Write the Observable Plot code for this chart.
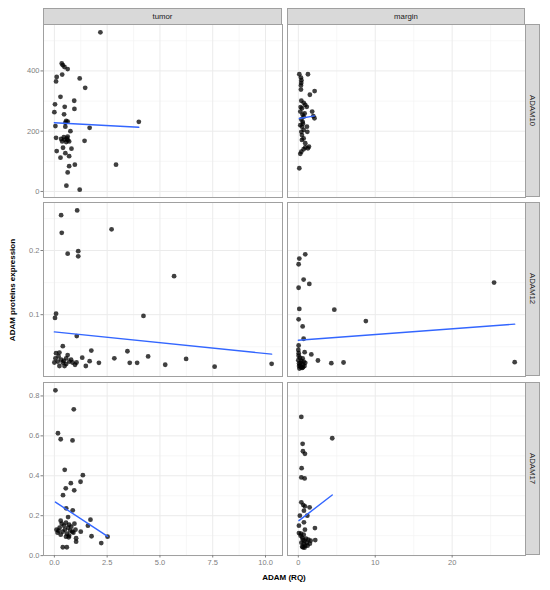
<!DOCTYPE html>
<html><head><meta charset="utf-8">
<script src="https://cdn.jsdelivr.net/npm/d3@7"></script>
<script src="https://cdn.jsdelivr.net/npm/@observablehq/plot@0.6"></script>
<style>
body{margin:0;background:#fff;font-family:"Liberation Sans",Arial,sans-serif;}
#chart{position:relative;width:550px;height:590px;overflow:hidden;}
.strip{position:absolute;background:#d9d9d9;border:1px solid #a0a0a0;box-sizing:border-box;display:flex;align-items:center;justify-content:center;font-size:7.8px;color:#1a1a1a;}
.vstrip{writing-mode:vertical-rl;}
.panel{position:absolute;}
.ytitle{position:absolute;left:12px;top:290px;transform:translate(-50%,-50%) rotate(-90deg);font-weight:bold;font-size:8px;white-space:nowrap;color:#000;}
.xtitle{position:absolute;left:284px;top:577px;transform:translate(-50%,-50%);font-weight:bold;font-size:8px;white-space:nowrap;color:#000;}
</style>
</head><body><div id="chart"></div>
<script>
const conditions = ["tumor", "margin"];
const proteins = ["ADAM10", "ADAM12", "ADAM17"];

const tumor_ADAM10 = [[2.18,528],[0.35,425],[0.40,419],[0.48,413],[0.63,406],[0.11,380],[0.08,365],[0.37,388],[1.20,375],[1.46,344],[0.29,314],[0.03,289],[0.94,301],[0.49,281],[0.95,274],[0.00,263],[0.46,256],[4.00,231],[0.56,234],[0.63,232],[0.52,228],[0.05,217],[0.52,215],[1.67,211],[0.76,200],[0.63,182],[0.08,178],[0.32,174],[0.48,172],[0.37,166],[0.56,164],[0.63,170],[1.43,168],[0.41,145],[0.81,142],[0.11,134],[0.52,127],[0.70,117],[0.29,112],[2.92,89],[0.97,89],[0.70,84],[0.63,63],[0.57,19],[1.20,6],[0.45,180],[0.60,176],[0.70,166]];
const margin_ADAM10 = [[0.13,389],[1.25,389],[0.34,378],[0.40,369],[0.38,360],[0.34,352],[0.34,338],[2.12,333],[1.50,321],[0.39,301],[0.70,294],[0.90,287],[1.10,281],[0.47,276],[0.26,265],[1.80,265],[0.82,259],[1.95,250],[0.69,248],[2.10,243],[0.39,239],[0.56,231],[0.26,220],[0.47,215],[1.12,215],[0.69,204],[0.39,198],[1.17,198],[0.47,187],[0.69,176],[0.47,171],[0.90,160],[1.38,149],[0.90,146],[1.25,143],[0.69,140],[0.39,132],[0.26,125],[0.13,77],[0.55,255],[0.30,280],[0.60,225]];
const tumor_ADAM12 = [[0.32,0.255],[1.08,0.2625],[0.35,0.2275],[2.71,0.233],[0.63,0.195],[1.13,0.199],[1.13,0.191],[5.67,0.160],[0.08,0.1015],[0.03,0.095],[4.22,0.098],[1.06,0.0666],[0.40,0.051],[1.75,0.044],[3.46,0.043],[4.44,0.035],[2.84,0.032],[1.32,0.033],[1.67,0.0275],[2.11,0.025],[3.57,0.025],[3.92,0.025],[1.49,0.020],[5.25,0.022],[6.24,0.031],[7.59,0.019],[10.29,0.0235],[0.08,0.040],[0.24,0.041],[0.05,0.032],[0.16,0.027],[0.00,0.0255],[0.32,0.030],[0.40,0.0255],[0.48,0.020],[0.56,0.032],[0.63,0.037],[0.71,0.027],[0.79,0.030],[0.86,0.0255],[0.98,0.022],[1.05,0.0255],[0.24,0.020],[0.56,0.023],[0.20,0.035],[0.45,0.028]];
const margin_ADAM12 = [[0.90,0.194],[0.13,0.1875],[0.04,0.1786],[0.69,0.1547],[1.43,0.148],[0.04,0.142],[25.45,0.150],[0.13,0.109],[4.68,0.1078],[0.04,0.0927],[8.78,0.090],[0.56,0.0817],[0.69,0.0625],[28.13,0.026],[5.88,0.0255],[4.29,0.0244],[2.55,0.0286],[1.69,0.038],[0.82,0.0416],[0.04,0.052],[0.00,0.045],[0.04,0.036],[0.56,0.032],[0.00,0.029],[0.30,0.025],[0.60,0.022],[0.10,0.020],[0.35,0.018],[0.70,0.027],[0.15,0.016],[0.50,0.017],[0.80,0.020],[0.20,0.033],[0.05,0.040],[0.40,0.028],[0.90,0.025],[0.25,0.021],[0.60,0.018],[0.10,0.024]];
const tumor_ADAM17 = [[0.05,0.828],[0.92,0.733],[0.17,0.613],[0.30,0.583],[0.86,0.577],[0.49,0.43],[1.35,0.403],[1.24,0.37],[0.78,0.363],[0.54,0.337],[0.94,0.327],[0.41,0.303],[0.56,0.237],[0.87,0.227],[0.65,0.193],[1.71,0.18],[1.59,0.15],[1.25,0.12],[1.76,0.097],[2.52,0.095],[1.03,0.087],[1.03,0.07],[2.22,0.063],[0.40,0.042],[0.59,0.042],[0.68,0.092],[0.10,0.13],[0.20,0.125],[0.25,0.14],[0.30,0.175],[0.35,0.16],[0.40,0.12],[0.45,0.15],[0.50,0.13],[0.55,0.165],[0.60,0.11],[0.65,0.14],[0.70,0.155],[0.75,0.125],[0.80,0.145],[0.90,0.115],[0.95,0.16],[1.00,0.13],[0.15,0.115],[0.30,0.105],[0.55,0.095],[0.85,0.12],[0.70,0.10]];
const margin_ADAM17 = [[0.39,0.695],[4.41,0.588],[0.56,0.56],[0.60,0.523],[0.86,0.51],[0.43,0.438],[0.39,0.392],[0.82,0.387],[0.39,0.267],[0.65,0.253],[0.86,0.247],[1.47,0.242],[0.73,0.225],[1.17,0.2],[0.20,0.2],[0.73,0.167],[0.08,0.15],[2.16,0.138],[0.86,0.13],[0.08,0.113],[0.30,0.10],[0.50,0.09],[0.60,0.08],[0.80,0.075],[1.00,0.085],[1.30,0.08],[1.60,0.075],[2.20,0.078],[0.40,0.065],[0.70,0.06],[0.90,0.05],[1.10,0.065],[0.50,0.045],[0.80,0.04],[1.20,0.05],[0.60,0.042],[1.50,0.06],[0.35,0.11],[0.70,0.105]];

const series = {
  tumor: {ADAM10: tumor_ADAM10, ADAM12: tumor_ADAM12, ADAM17: tumor_ADAM17},
  margin: {ADAM10: margin_ADAM10, ADAM12: margin_ADAM12, ADAM17: margin_ADAM17}
};

const xTicks = {tumor: [0, 2.5, 5, 7.5, 10], margin: [0, 10, 20]};
const xMinor = {tumor: [1.25, 3.75, 6.25, 8.75], margin: [5, 15, 25]};
const xFormat = {tumor: d3.format(".1f"), margin: d3.format("d")};
const yTicks = {ADAM10: [0, 200, 400], ADAM12: [0.1, 0.2], ADAM17: [0, 0.2, 0.4, 0.6, 0.8]};
const yMinor = {ADAM10: [100, 300, 500], ADAM12: [0.05, 0.15, 0.25], ADAM17: [0.1, 0.3, 0.5, 0.7]};
const yFormat = {ADAM10: d3.format("d"), ADAM12: d3.format(".1f"), ADAM17: d3.format(".1f")};

const xAxisTitle = "ADAM (RQ)";
const yAxisTitle = "ADAM proteins expression";

// ggplot-like 5% expansion of free scales
function expand(ext) { const r = ext[1] - ext[0]; return [ext[0] - 0.05 * r, ext[1] + 0.05 * r]; }
const xDomain = {}, yDomain = {};
for (const c of conditions) xDomain[c] = expand(d3.extent(proteins.flatMap(p => series[c][p].map(d => d[0]))));
for (const p of proteins) yDomain[p] = expand(d3.extent(conditions.flatMap(c => series[c][p].map(d => d[1]))));

const colLeft = [43, 287], colW = [239, 238];
const rowTop = [24, 202, 382], rowH = [173, 174, 173];
const chart = document.getElementById("chart");

conditions.forEach((cond, ci) => {
  proteins.forEach((prot, ri) => {
    const data = series[cond][prot];
    const ml = ci === 0 ? 43 : 0;
    const mb = ri === 2 ? 14 : 0;
    const marks = [
      Plot.ruleX(xMinor[cond], {stroke: "#f3f3f3", strokeWidth: 0.7}),
      Plot.ruleY(yMinor[prot], {stroke: "#f3f3f3", strokeWidth: 0.7}),
      Plot.ruleX(xTicks[cond], {stroke: "#ebebeb", strokeWidth: 1}),
      Plot.ruleY(yTicks[prot], {stroke: "#ebebeb", strokeWidth: 1}),
      Plot.dot(data, {x: d => d[0], y: d => d[1], r: 2.4, fill: "#000", fillOpacity: 0.75, stroke: "none"}),
      Plot.linearRegressionY(data, {x: d => d[0], y: d => d[1], stroke: "#3366FF", strokeWidth: 1.4, ci: 0}),
      Plot.frame({stroke: "#a0a0a0"})
    ];
    if (ci === 0) marks.push(Plot.axisY({ticks: yTicks[prot], tickFormat: yFormat[prot], tickSize: 2.5, tickPadding: 1.5, fontSize: 7.5, label: null}));
    if (ri === 2) marks.push(Plot.axisX({ticks: xTicks[cond], tickFormat: xFormat[cond], tickSize: 2.5, tickPadding: 1.5, fontSize: 7.5, label: null}));
    const svg = Plot.plot({
      width: ml + colW[ci],
      height: rowH[ri] + mb,
      marginLeft: ml, marginRight: 0, marginTop: 0, marginBottom: mb,
      style: {color: "#808080", background: "transparent", fontFamily: "'Liberation Sans', Arial, sans-serif", overflow: "visible"},
      x: {domain: xDomain[cond], ...(ri === 2 ? {} : {axis: null})},
      y: {domain: yDomain[prot], ...(ci === 0 ? {} : {axis: null})},
      marks
    });
    const div = document.createElement("div");
    div.className = "panel";
    div.style.left = (colLeft[ci] - ml) + "px";
    div.style.top = rowTop[ri] + "px";
    div.appendChild(svg);
    chart.appendChild(div);
  });
});

// column strips
conditions.forEach((cond, ci) => {
  const s = document.createElement("div");
  s.className = "strip";
  s.style.left = colLeft[ci] + "px"; s.style.top = "8px";
  s.style.width = colW[ci] + "px"; s.style.height = "16.5px";
  s.textContent = cond;
  chart.appendChild(s);
});
// row strips
proteins.forEach((prot, ri) => {
  const s = document.createElement("div");
  s.className = "strip vstrip";
  s.style.left = "525px"; s.style.top = rowTop[ri] + "px";
  s.style.width = "15px"; s.style.height = rowH[ri] + "px";
  s.textContent = prot;
  chart.appendChild(s);
});
const yt = document.createElement("div"); yt.className = "ytitle"; yt.textContent = yAxisTitle; chart.appendChild(yt);
const xt = document.createElement("div"); xt.className = "xtitle"; xt.textContent = xAxisTitle; chart.appendChild(xt);
</script></body></html>
